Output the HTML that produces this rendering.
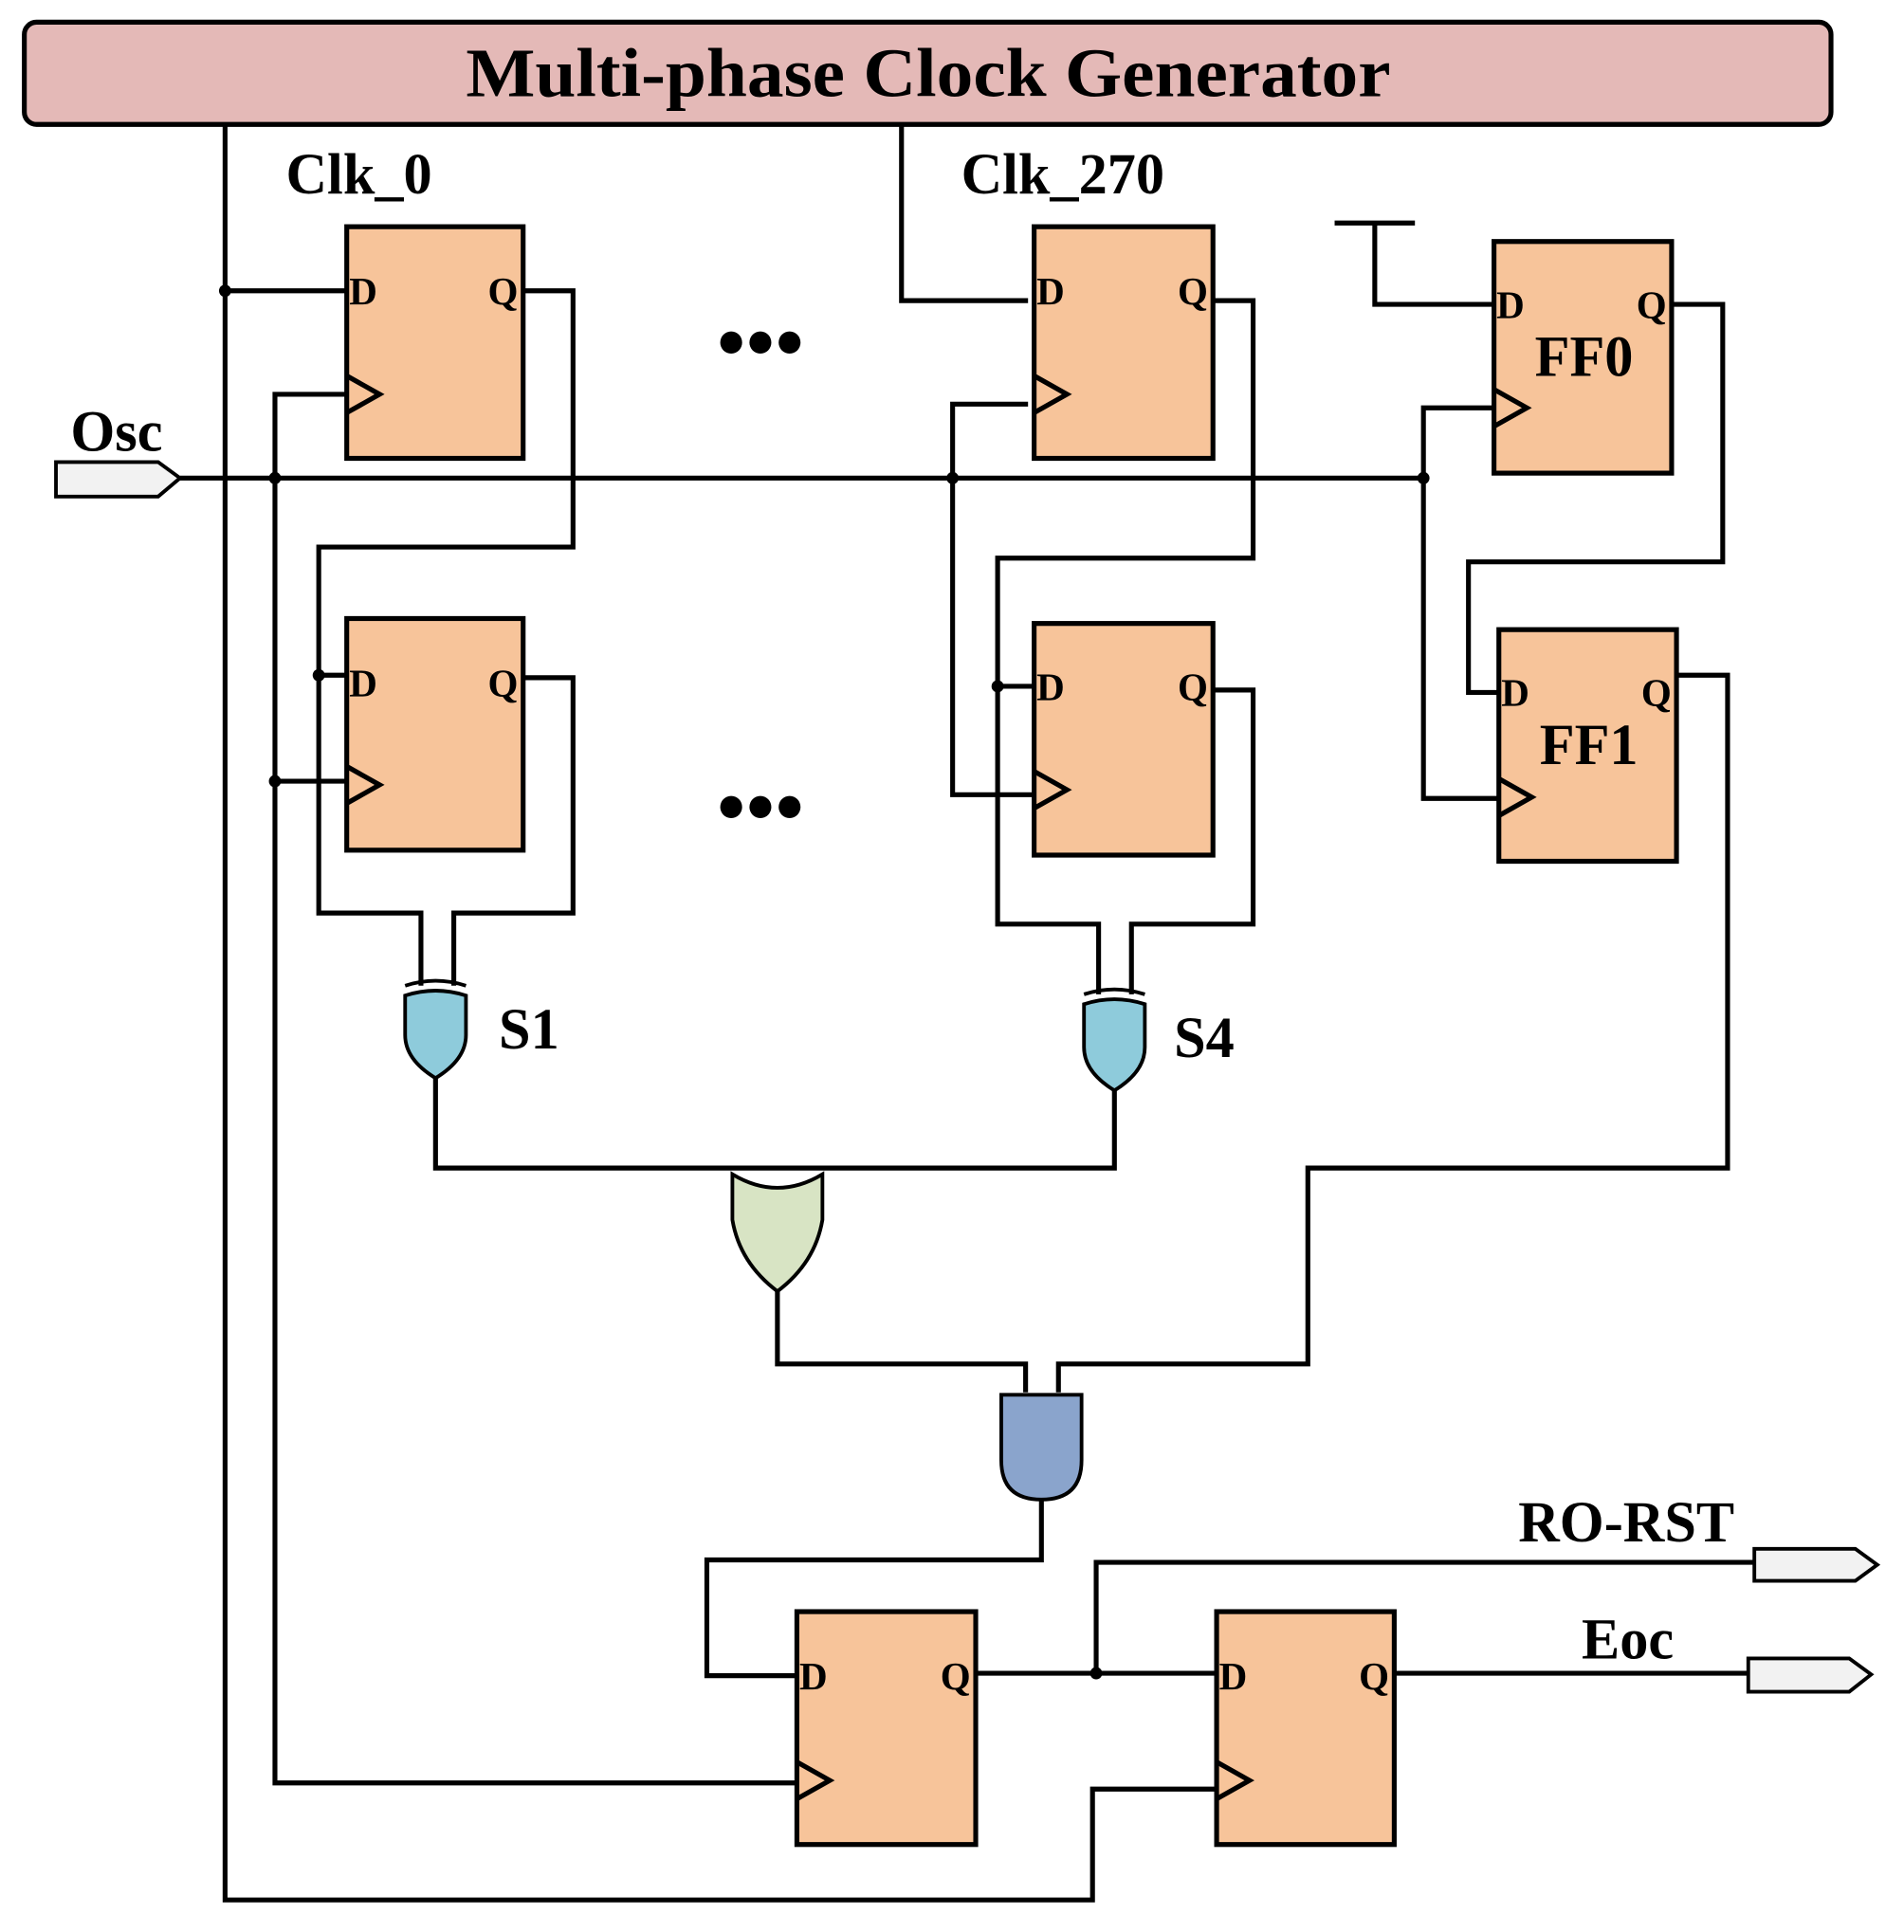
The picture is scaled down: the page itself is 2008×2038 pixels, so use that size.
<!DOCTYPE html>
<html><head><style>html,body{margin:0;padding:0;background:#fff}svg{display:block}</style></head>
<body>
<svg width="2008" height="2038" viewBox="0 0 1565 1568" preserveAspectRatio="none" xmlns="http://www.w3.org/2000/svg">
<g font-family="Liberation Serif, serif" font-weight="bold">
<rect x="20" y="18" width="1485" height="83" rx="10" fill="#e4b9b7" stroke="#000" stroke-width="4"/>
<text x="383" y="78" font-size="56" textLength="760" lengthAdjust="spacingAndGlyphs">Multi-phase Clock Generator</text>

<g fill="none" stroke="#000" stroke-width="4">
<polyline points="185,101 185,1542 898,1542 898,1452 1000,1452"/>
<line x1="185" y1="236" x2="285" y2="236"/>
<line x1="148" y1="388" x2="1170" y2="388"/>
<polyline points="285,320 226,320 226,1447 655,1447"/>
<line x1="226" y1="634" x2="285" y2="634"/>
<polyline points="430,236 471,236 471,444 262,444 262,741 346,741 346,800"/>
<line x1="262" y1="548" x2="285" y2="548"/>
<polyline points="430,550 471,550 471,741 373,741 373,800"/>
<polyline points="358,875 358,948 916,948 916,885"/>
<polyline points="741,101 741,244 845,244"/>
<polyline points="997,244 1030,244 1030,453 820,453 820,750 903,750 903,807"/>
<line x1="820" y1="557" x2="850" y2="557"/>
<polyline points="997,560 1030,560 1030,750 930,750 930,807"/>
<polyline points="845,328 783,328 783,645 850,645"/>
<polyline points="639,1048 639,1107 843,1107 843,1130"/>
<polyline points="870,1130 870,1107 1075,1107 1075,948 1420,948 1420,548 1378,548"/>
<line x1="1097" y1="181" x2="1163" y2="181"/>
<polyline points="1130,181 1130,247 1228,247"/>
<polyline points="1374,247 1416,247 1416,456 1207,456 1207,562 1232,562"/>
<polyline points="1228,331 1170,331 1170,648 1232,648"/>
<polyline points="856,1217 856,1266 581,1266 581,1360 655,1360"/>
<line x1="802" y1="1358" x2="1000" y2="1358"/>
<polyline points="901,1358 901,1268 1442,1268"/>
<line x1="1146" y1="1358" x2="1437" y2="1358"/>
</g>

<g fill="#000">
<circle cx="185" cy="236" r="5"/><circle cx="226" cy="388" r="5"/><circle cx="783" cy="388" r="5"/>
<circle cx="1170" cy="388" r="5"/><circle cx="226" cy="634" r="5"/><circle cx="262" cy="548" r="5"/>
<circle cx="820" cy="557" r="5"/><circle cx="901" cy="1358" r="5"/>
<circle cx="601" cy="278" r="9"/><circle cx="625" cy="278" r="9"/><circle cx="649" cy="278" r="9"/>
<circle cx="601" cy="655" r="9"/><circle cx="625" cy="655" r="9"/><circle cx="649" cy="655" r="9"/>
</g>

<g fill="#f7c49a" stroke="#000" stroke-width="4">
<rect x="285" y="184" width="145" height="188"/>
<rect x="285" y="502" width="145" height="188"/>
<rect x="850" y="184" width="147" height="188"/>
<rect x="850" y="506" width="147" height="188"/>
<rect x="1228" y="196" width="146" height="188"/>
<rect x="1232" y="511" width="146" height="188"/>
<rect x="655" y="1308" width="147" height="189"/>
<rect x="1000" y="1308" width="146" height="189"/>
</g>
<g fill="none" stroke="#000" stroke-width="4">
<polyline points="285,305 312,320 285,335"/>
<polyline points="285,622 312,637 285,652"/>
<polyline points="850,305 877,320 850,335"/>
<polyline points="850,626 877,641 850,656"/>
<polyline points="1228,316 1255,331 1228,346"/>
<polyline points="1232,632 1259,647 1232,662"/>
<polyline points="655,1430 682,1445 655,1460"/>
<polyline points="1000,1430 1027,1445 1000,1460"/>
</g>
<g font-size="32">
<text x="287" y="247">D</text><text x="401" y="247">Q</text>
<text x="287" y="565">D</text><text x="401" y="565">Q</text>
<text x="852" y="247">D</text><text x="968" y="247">Q</text>
<text x="852" y="568">D</text><text x="968" y="568">Q</text>
<text x="1230" y="258">D</text><text x="1345" y="258">Q</text>
<text x="1234" y="573">D</text><text x="1349" y="573">Q</text>
<text x="657" y="1371">D</text><text x="773" y="1371">Q</text>
<text x="1002" y="1371">D</text><text x="1117" y="1371">Q</text>
</g>
<g font-size="47">
<text x="1302" y="305" text-anchor="middle">FF0</text>
<text x="1306" y="620" text-anchor="middle">FF1</text>
<text x="235" y="157">Clk_0</text>
<text x="790" y="157">Clk_270</text>
<text x="58" y="366">Osc</text>
<text x="410" y="851">S1</text>
<text x="965" y="858">S4</text>
<text x="1248" y="1251">RO-RST</text>
<text x="1300" y="1346">Eoc</text>
</g>

<g stroke="#000" stroke-width="3">
<path d="M333,808 Q358,800 383,808 L383,840 Q383,860 358,875 Q333,860 333,840 Z" fill="#8ecbdb"/>
<path d="M333,800 Q358,792 383,800" fill="none"/>
<path d="M891,815 Q916,807 941,815 L941,850 Q941,870 916,885 Q891,870 891,850 Z" fill="#8ecbdb"/>
<path d="M891,807 Q916,799 941,807" fill="none"/>
<path d="M602,953 Q639,975 676,953 L676,990 Q670,1025 639,1048 Q608,1025 602,990 Z" fill="#d8e4c4"/>
<path d="M823,1132 L889,1132 L889,1185 Q889,1217 856,1217 Q823,1217 823,1185 Z" fill="#8aa4cc"/>
</g>
<g fill="#f2f2f2" stroke="#000" stroke-width="3">
<polygon points="46,375 130,375 148,388 130,403 46,403"/>
<polygon points="1442,1257 1525,1257 1543,1270 1525,1283 1442,1283"/>
<polygon points="1437,1346 1520,1346 1538,1359 1520,1373 1437,1373"/>
</g>
</g>
</svg>
</body></html>
